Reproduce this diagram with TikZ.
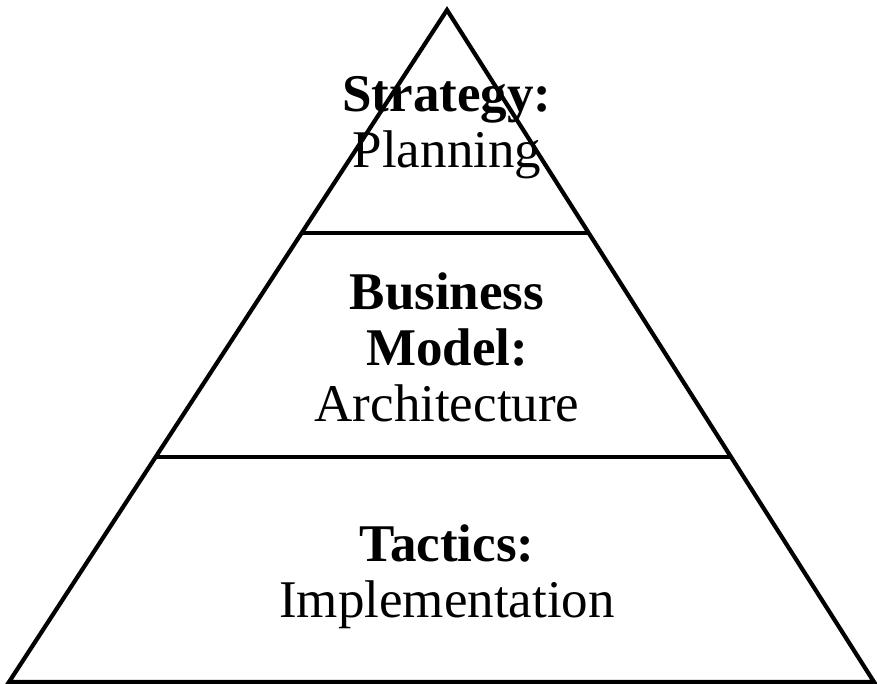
\documentclass[tikz,border=0pt]{standalone}
\usepackage{fontspec}
\setmainfont{Liberation Serif}
\usetikzlibrary{calc}

\tikzset{
  edge/.style={line width=4.2pt, line join=miter, color=black},
  level/.style={align=center, font=\fontsize{53}{56}\selectfont, inner sep=0pt}
}

\begin{document}
\begin{tikzpicture}[x=1pt,y=1pt]
\useasboundingbox (0,0) rectangle (877,684);
% corners of the pyramid
\coordinate (apex) at (447,674);
\coordinate (baseL) at (9,2);
\coordinate (baseR) at (874,2);
% end points of the two dividing lines
\coordinate (lowL) at ($(baseL)!0.335!(apex)$);
\coordinate (lowR) at ($(baseR)!0.335!(apex)$);
\coordinate (upL) at ($(baseL)!0.668!(apex)$);
\coordinate (upR) at ($(baseR)!0.668!(apex)$);
\draw[edge] (apex) -- (baseR) -- (baseL) -- cycle;
\draw[edge] (lowL) -- (lowR);
\draw[edge] (upL) -- (upR);
% the three levels
\node[level] (strategy) at (447,556) {\textbf{Strategy:}\\Planning};
\node[level] (model) at (447,337) {\textbf{Business}\\\textbf{Model:}\\Architecture};
\node[level] (tactics) at (447,107) {\textbf{Tactics:}\\Implementation};
\end{tikzpicture}
\end{document}
